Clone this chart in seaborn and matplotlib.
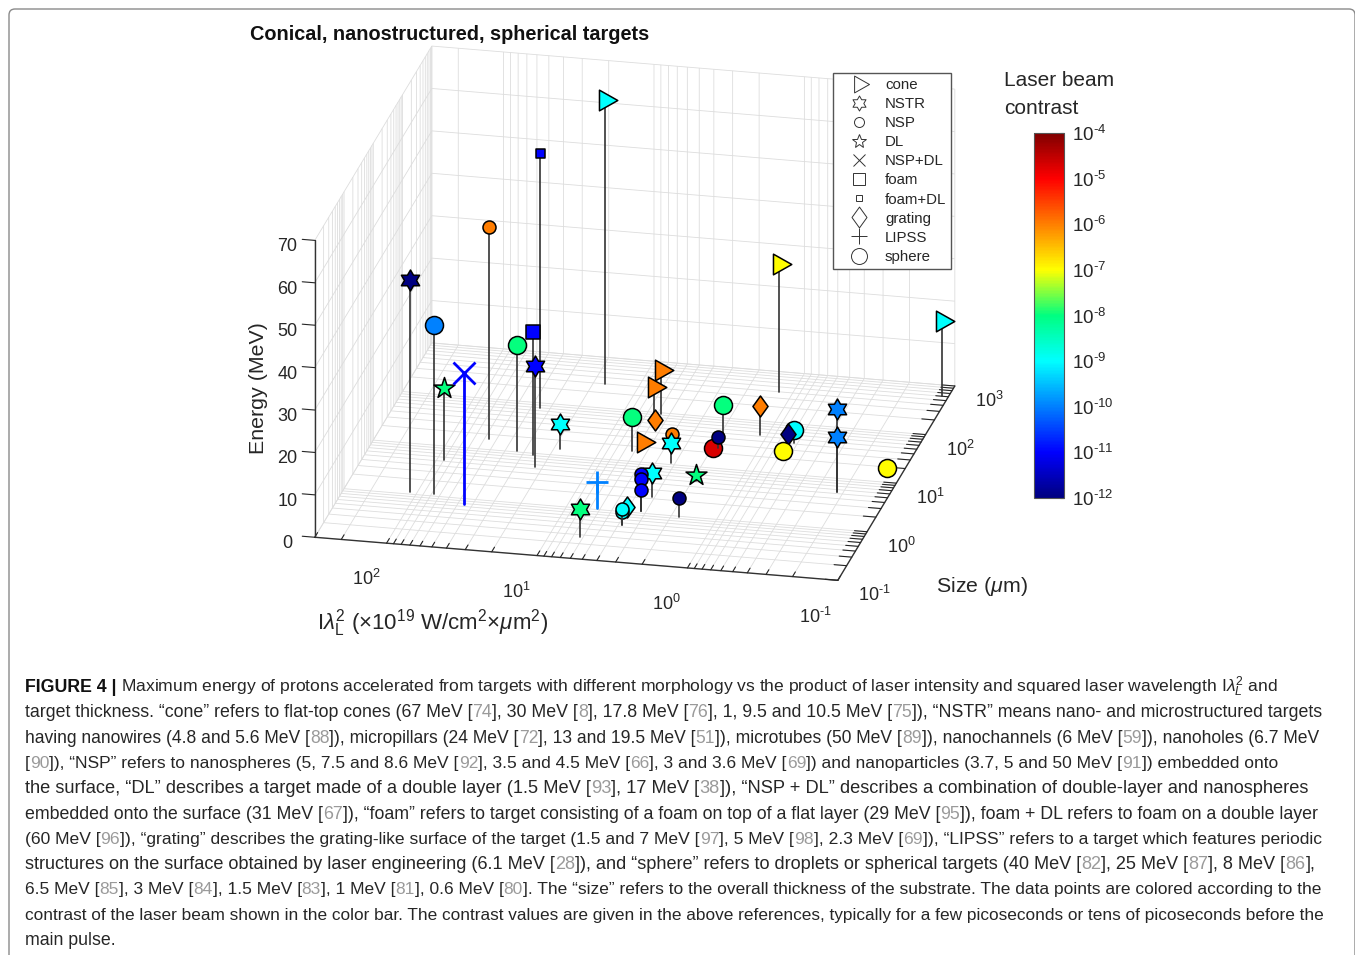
import re

import matplotlib.pyplot as plt
import seaborn as sns
from matplotlib.colors import LogNorm
from matplotlib.cm import ScalarMappable
from matplotlib.lines import Line2D
from matplotlib.patches import FancyBboxPatch
from matplotlib.path import Path
from matplotlib.transforms import IdentityTransform
import numpy as np

# Points (log10 of intensity and size, energy in MeV)
point_type = ["cone", "foam+DL", "NSP", "NSTR", "sphere", "foam", "sphere", "NSTR",
              "DL", "NSP+DL", "NSTR", "LIPSS", "NSTR", "grating", "NSP", "NSP",
              "cone", "cone", "grating", "sphere", "cone", "NSP", "NSTR", "sphere",
              "grating", "sphere", "NSP", "NSTR", "NSP", "NSP", "NSP", "DL",
              "NSP", "sphere", "grating", "sphere", "NSTR", "NSTR", "cone", "cone",
              "sphere"]
log_intensity = [1.225, 1.546, 1.748, 2.046, 1.888, 1.409, 1.524, 1.348,
                 1.950, 1.659, 1.256, 0.803, 0.801, 0.581, 0.583, 0.583,
                 0.751, 0.748, 0.746, 0.796, 0.747, 0.545, 0.503, 0.287,
                 0.045, 0.281, 0.266, 0.498, 0.511, 0.511, 0.511, 0.278,
                 0.249, -0.198, -0.152, -0.185, -0.657, -0.657, 0.089, -0.956,
                 -0.895]
log_size = [2.474, 1.904, 1.200, 0.032, 0.031, 0.963, 1.016, 0.725,
            0.722, -0.111, 1.120, 0.031, -0.567, -0.094, -0.255, -0.255,
            1.976, 1.709, 1.722, 1.202, 1.317, 1.293, 1.023, 1.709,
            1.717, 1.313, 1.399, 0.336, 0.044, 0.044, 0.044, 0.715,
            -0.013, 1.620, 1.662, 1.320, 0.727, 0.727, 2.605, 2.782,
            1.225]
energy = [67, 60, 50, 50, 40, 29, 25, 24,
          17, 31, 6, 6.1, 6.7, 2.3, 3, 3.6,
          10.5, 9.5, 1.5, 8, 1, 3.7, 4.8, 6.5,
          7, 1, 2.7, 5.6, 8.6, 7.5, 5, 1.5,
          4.5, 3, 1.5, 1.5, 19.5, 13, 30, 17.8,
          0.6]
contrast = [1e-9, 1e-11, 1e-6, 1e-12, 1e-10, 1e-11, 1e-8, 1e-11,
            1e-8, 1e-11, 1e-9, 1e-10, 1e-8, 1e-9, 1e-9, 1e-9,
            1e-6, 1e-6, 1e-6, 1e-8, 1e-6, 1e-6, 1e-9, 1e-8,
            1e-6, 2e-5, 1e-12, 1e-9, 1e-11, 1e-11, 1e-11, 1e-8,
            1e-12, 1e-9, 1e-12, 1e-7, 1e-10, 1e-10, 1e-7, 1e-9,
            1e-7]

# Axis ticks
intensity_ticks = [0.1, 0.2, 0.3, 0.4, 0.5, 0.6, 0.7, 0.8, 0.9, 1, 2, 3, 4, 5, 6, 7, 8, 9,
                   10, 20, 30, 40, 50, 60, 70, 80, 90, 100, 200, 300]
size_ticks = [0.1, 0.2, 0.3, 0.4, 0.5, 0.6, 0.7, 0.8, 0.9, 1, 2, 3, 4, 5, 6, 7, 8, 9,
              10, 20, 30, 40, 50, 60, 70, 80, 90, 100, 200, 300, 400, 500, 600, 700, 800, 900, 1000]
energy_ticks = [0, 10, 20, 30, 40, 50, 60, 70]
decades = {0.1: "-1", 1: "0", 10: "1", 100: "2", 1000: "3"}
contrast_ticks = [1e-12, 1e-11, 1e-10, 1e-9, 1e-8, 1e-7, 1e-6, 1e-5, 1e-4]
contrast_colors = ["#000080", "#0000ff", "#0080ff", "#00ffff", "#00ff80",
                   "#ffff00", "#ff8000", "#ff0000", "#800000"]

type_names = ["cone", "NSTR", "NSP", "DL", "NSP+DL", "foam", "foam+DL", "grating", "LIPSS", "sphere"]
legend_sizes = [14.4, 10.8, 7.2, 10.8, 8.6, 8.9, 5, 15, 11.5, 11.5]

caption_lines = [
    "Maximum energy of protons accelerated from targets with different morphology vs the product of laser intensity and squared laser wavelength I$\\lambda_L^2$ and",
    "target thickness. “cone” refers to flat-top cones (67 MeV [74], 30 MeV [8], 17.8 MeV [76], 1, 9.5 and 10.5 MeV [75]), “NSTR” means nano- and microstructured targets",
    "having nanowires (4.8 and 5.6 MeV [88]), micropillars (24 MeV [72], 13 and 19.5 MeV [51]), microtubes (50 MeV [89]), nanochannels (6 MeV [59]), nanoholes (6.7 MeV",
    "[90]), “NSP” refers to nanospheres (5, 7.5 and 8.6 MeV [92], 3.5 and 4.5 MeV [66], 3 and 3.6 MeV [69]) and nanoparticles (3.7, 5 and 50 MeV [91]) embedded onto",
    "the surface, “DL” describes a target made of a double layer (1.5 MeV [93], 17 MeV [38]), “NSP + DL” describes a combination of double-layer and nanospheres",
    "embedded onto the surface (31 MeV [67]), “foam” refers to target consisting of a foam on top of a flat layer (29 MeV [95]), foam + DL refers to foam on a double layer",
    "(60 MeV [96]), “grating” describes the grating-like surface of the target (1.5 and 7 MeV [97], 5 MeV [98], 2.3 MeV [69]), “LIPSS” refers to a target which features periodic",
    "structures on the surface obtained by laser engineering (6.1 MeV [28]), and “sphere” refers to droplets or spherical targets (40 MeV [82], 25 MeV [87], 8 MeV [86],",
    "6.5 MeV [85], 3 MeV [84], 1.5 MeV [83], 1 MeV [81], 0.6 MeV [80]. The “size” refers to the overall thickness of the substrate. The data points are colored according to the",
    "contrast of the laser beam shown in the color bar. The contrast values are given in the above references, typically for a few picoseconds or tens of picoseconds before the",
    "main pulse.",
]
caption_ends = [1280, 1323, 1323, 1280, 1309, 1323, 1323, 1323, 1323, 1323, 116]


def closed(verts):
    return Path(verts + [verts[0]], closed=True)


def decade_label(t):
    return "10$^{\\text{%s}}$" % decades[t] if t in decades else ""


# Markers
cone_marker = closed([(-0.49, 0.84), (1, 0), (-0.49, -0.84)])
diamond_marker = closed([(0, 1), (0.72, 0), (0, -1), (-0.72, 0)])
hexagram_marker = Path.unit_regular_star(6, innerCircle=0.577)
markers = {"cone": cone_marker, "NSTR": hexagram_marker, "NSP": "o", "DL": "*", "NSP+DL": "x",
           "foam": "s", "foam+DL": "s", "grating": diamond_marker, "LIPSS": "+", "sphere": "o"}
marker_px = {"cone": 24.6, "NSTR": 21, "NSP": 13, "DL": 22, "NSP+DL": 22,
             "foam": 14, "foam+DL": 9, "grating": 21, "LIPSS": 22, "sphere": 18}

# Style
sns.set_style("white", {"xtick.bottom": True, "ytick.left": True})
plt.rcParams["font.family"] = ["Liberation Sans", "DejaVu Sans"]
plt.rcParams["mathtext.fontset"] = "custom"
plt.rcParams["mathtext.rm"] = "Liberation Sans"
plt.rcParams["mathtext.it"] = "Liberation Sans:italic"
plt.rcParams["mathtext.bf"] = "Liberation Sans:bold"

W, H = 1355, 955
TEXT = "#262626"
fig = plt.figure(figsize=(W / 100, H / 100), dpi=100, facecolor="white")

contrast_cmap = sns.blend_palette(contrast_colors, n_colors=256, as_cmap=True)
contrast_norm = LogNorm(vmin=1e-12, vmax=1e-4)

# 3D axes (log values, mplot3d has no working log scale)
S = 800
ax = fig.add_axes([224 / W, 231 / H, S / W, S / H], projection="3d",
                  proj_type="ortho", computed_zorder=False, facecolor="none")
ax.view_init(elev=21.7, azim=-77.45)
ax.set_box_aspect((535.8, 538.4, 319.5))
ax.set_xlim(np.log10(300), -1, view_margin=0)
ax.set_ylim(-1, 3, view_margin=0)
ax.set_zlim(0, 70, view_margin=0)

ax.set_xticks(np.log10(intensity_ticks))
ax.set_xticklabels([decade_label(t) for t in intensity_ticks], fontsize=13, color=TEXT, ha="right")
ax.set_yticks(np.log10(size_ticks))
ax.set_yticklabels([decade_label(t) for t in size_ticks], fontsize=13, color=TEXT, ha="left", va="center_baseline")
ax.set_zticks(energy_ticks)
ax.set_zticklabels([str(t) for t in energy_ticks], fontsize=13, color=TEXT, va="center")
ax.tick_params(axis="x", pad=8)
ax.tick_params(axis="z", pad=4.9)
ax.grid(True)

for axis in [ax.xaxis, ax.yaxis, ax.zaxis]:
    axis.set_pane_color((1, 1, 1, 0))
    axis.pane.set_edgecolor("#cfcfcf")
    axis.line.set_color("#333333")
    axis.line.set_linewidth(1.0)
    axis._axinfo["grid"].update(color="#dddddd", linewidth=0.6)
    axis._axinfo["tick"].update(inward_factor=0, outward_factor=0.3, linewidth={True: 0.8, False: 0.8}, color="#333333")
ax.zaxis.set_ticks_position("lower")
# energy ticks point along the intensity axis, as in the original
ax.zaxis._get_tickdir = lambda position: 0

# Stems and markers
for i, (t, x, y, e, c) in enumerate(zip(point_type, log_intensity, log_size, energy, contrast)):
    color = contrast_cmap(contrast_norm(c))
    size = (marker_px[t] * 0.72) ** 2
    if t in ["NSP+DL", "LIPSS"]:
        ax.plot([x, x], [y, y], [0, e], color=color, lw=2.0, zorder=10 + i)
        ax.scatter([x], [y], [e], marker=markers[t], s=size, color=[color], linewidths=2.0,
                   depthshade=False, zorder=10 + i)
    else:
        ax.plot([x, x], [y, y], [0, e], color="#333333", lw=1.2, zorder=10 + i)
        ax.scatter([x], [y], [e], marker=markers[t], s=size, color=[color], edgecolors="black",
                   linewidths=1.1, depthshade=False, zorder=10 + i)

# Legend
handles = [Line2D([], [], ls="none", marker=markers[n], ms=ms, mfc="none", mec="#333333", mew=0.7)
           for n, ms in zip(type_names, legend_sizes)]
legend = fig.legend(handles, type_names, loc="upper left", bbox_to_anchor=(833 / W, 1 - 73 / H), borderaxespad=0,
                    fontsize=10.8, labelspacing=0.34, borderpad=0.33, handlelength=2.8, handletextpad=0.33,
                    fancybox=False, framealpha=1, edgecolor="#555555", labelcolor=TEXT)
legend.get_frame().set_linewidth(1.0)

# Colorbar
cax = fig.add_axes([1034 / W, 1 - 498 / H, 30 / W, 365 / H])
cbar = fig.colorbar(ScalarMappable(norm=contrast_norm, cmap=contrast_cmap), cax=cax, ticks=contrast_ticks)
cbar.ax.minorticks_off()
cbar.ax.tick_params(direction="in", length=3, width=0.8, color="#333333", right=True, labelsize=13.5, labelcolor=TEXT, pad=6)
cbar.ax.set_yticklabels(["10$^{\\text{-%d}}$" % n for n in range(12, 3, -1)], va="center_baseline")
cbar.outline.set_edgecolor("#555555")
cbar.outline.set_linewidth(0.8)

# Titles and axis labels
fig.text(250 / W, 1 - 34 / H, "Conical, nanostructured, spherical targets", fontsize=14.3, fontweight="bold",
         va="center", color="#111111")
fig.text(1004 / W, 1 - 81 / H, "Laser beam", fontsize=15, va="center", color=TEXT)
fig.text(1004 / W, 1 - 108 / H, "contrast", fontsize=15, va="center", color=TEXT)
fig.text(259 / W, 1 - 388 / H, "Energy (MeV)", fontsize=15.4, rotation=90, ha="center", va="center", color=TEXT)
fig.text(982 / W, 1 - 587 / H, "Size ($\\mu$m)", fontsize=15.4, ha="center", va="center", color=TEXT)
fig.text(433 / W, 1 - 623 / H, "I$\\lambda_{\\mathrm{L}}^{2}$ ($\\times$10$^{19}$ W/cm$^{2}$$\\times$$\\mu$m$^{2}$)",
         fontsize=16, ha="center", va="center", color=TEXT)

# Page frame
fig.add_artist(FancyBboxPatch((9, -30), 1346, 946 + 30, boxstyle="round,pad=0,rounding_size=6",
                              transform=IdentityTransform(), fc="none", ec="#8a8a8a", lw=1.0))

# Caption
renderer = fig.canvas.get_renderer()


def text_width(s, size, **kw):
    t = fig.text(0, 0, s, fontsize=size, **kw)
    w = t.get_window_extent(renderer).width
    t.remove()
    return w


def draw_line(line, left, right, base):
    size = 13.2 * (right - left) / text_width(line, 13.2)
    parts = re.split(r"(?<=\[)(\d+)(?=\])", line)
    prefix = ""
    for i, part in enumerate(parts):
        if part:
            x = left + (text_width(prefix, size) if prefix else 0)
            fig.text(x / W, 1 - base / H, part, fontsize=size, va="baseline",
                     color="#9a9a9a" if i % 2 else TEXT)
            prefix += part


bold_size = 13.2 * 92 / text_width("FIGURE 4 |", 13.2, fontweight="bold")
fig.text(25 / W, 1 - 692 / H, "FIGURE 4 |", fontsize=bold_size, fontweight="bold", va="baseline", color="#111111")
for i, (line, end) in enumerate(zip(caption_lines, caption_ends)):
    draw_line(line, 121 if i == 0 else 25, end, 692 + 25.3 * i)

fig.savefig("out.png", dpi=100)
